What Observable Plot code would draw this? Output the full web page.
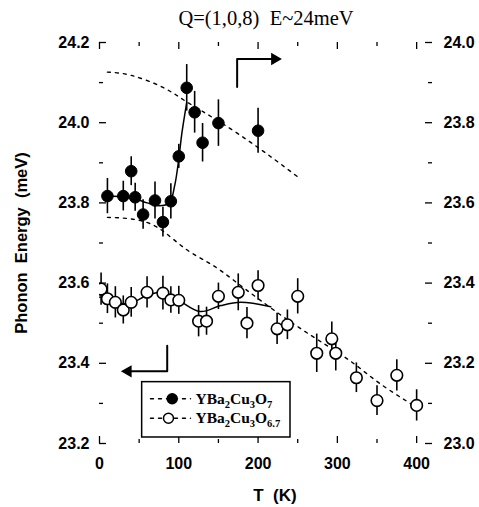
<!DOCTYPE html>
<html><head><meta charset="utf-8">
<script src="https://cdn.jsdelivr.net/npm/d3@7"></script>
<script src="https://cdn.jsdelivr.net/npm/@observablehq/plot@0.6"></script>
<style>body{margin:0;background:#fff}</style>
</head><body><div id="chart"></div>
<script>
const title = "Q=(1,0,8)\u00a0 E~24meV";
const yLabel = "Phonon\u00a0 Energy\u00a0 (meV)";
const xLabel = "T\u00a0 (K)";
const seriesNames = ["YBa2Cu3O7", "YBa2Cu3O6.7"];

// YBa2Cu3O7 (filled)
const o7T = [10, 30, 40, 45, 55, 70, 80, 90, 100, 110, 120, 130, 150, 200];
const o7E = [23.817, 23.817, 23.879, 23.814, 23.771, 23.806, 23.752, 23.804, 23.916, 24.087, 24.026, 23.95, 23.999, 23.98];
const o7Err = [0.044, 0.037, 0.036, 0.035, 0.037, 0.046, 0.037, 0.044, 0.03, 0.058, 0.052, 0.048, 0.058, 0.056];

// YBa2Cu3O6.7 (open)
const o67T = [2, 10, 20, 30, 40, 60, 80, 90, 100, 125, 135, 150, 175, 186, 200, 224, 237, 250, 274, 293, 298, 324, 350, 375, 400];
const o67E = [23.585, 23.561, 23.552, 23.533, 23.552, 23.577, 23.575, 23.558, 23.557, 23.505, 23.505, 23.567, 23.577, 23.5, 23.594, 23.486, 23.496, 23.567, 23.425, 23.461, 23.425, 23.364, 23.307, 23.37, 23.295];
const o67Err = [0.04, 0.037, 0.039, 0.035, 0.037, 0.039, 0.042, 0.033, 0.035, 0.039, 0.035, 0.033, 0.046, 0.039, 0.037, 0.039, 0.037, 0.044, 0.048, 0.042, 0.044, 0.037, 0.037, 0.039, 0.039];

// dashed curves
const fitUpperT = [10, 40, 80, 110, 150, 200, 252];
const fitUpperE = [24.126, 24.118, 24.088, 24.052, 24.004, 23.938, 23.862];
const fitLowerT = [10, 40, 73, 108, 140, 170, 203, 245, 287, 321, 354, 400];
const fitLowerE = [23.764, 23.76, 23.739, 23.686, 23.648, 23.606, 23.557, 23.498, 23.444, 23.399, 23.349, 23.29];

// solid guide curves
const guide7T = [10, 30, 45, 60, 75, 88, 95, 100, 104, 110];
const guide7E = [23.817, 23.815, 23.81, 23.80, 23.793, 23.80, 23.845, 23.91, 23.975, 24.05];
const guide67T = [0, 10, 35, 60, 80, 100, 127, 153, 178, 216];
const guide67E = [23.565, 23.561, 23.548, 23.569, 23.577, 23.557, 23.529, 23.544, 23.552, 23.541];

// ticks
const xTicks = [0, 100, 200, 300, 400];
const xMinorTicks = [50, 150, 250, 350];
const yTicks = [23.2, 23.4, 23.6, 23.8, 24.0, 24.2];
const yMinorTicks = [23.3, 23.5, 23.7, 23.9, 24.1];
const yRightLabels = ["23.0", "23.2", "23.4", "23.6", "23.8", "24.0"];

// annotations (data units)
const arrowRight = [[173.6, 24.089], [173.6, 24.159], [221, 24.159]];
const arrowLeft = [[85.4, 23.444], [85.4, 23.380], [36, 23.380]];
const legendBox = {x1: 53.8, x2: 240.9, y1: 23.215, y2: 23.353};
const legendRows = [
  {name: seriesNames[0], y: 23.3115, fill: "black", mx: 91.7},
  {name: seriesNames[1], y: 23.263, fill: "white", mx: 87}
];
const legendLineX = [64.3, 114.8];
const legendTextX = 121;

const zip = (T, E, err) => T.map((t, i) => ({T: t, E: E[i], err: err ? err[i] : 0}));
const s7 = zip(o7T, o7E, o7Err);
const s67 = zip(o67T, o67E, o67Err);
const fitU = zip(fitUpperT, fitUpperE);
const fitL = zip(fitLowerT, fitLowerE);
const g7 = zip(guide7T, guide7E);
const g67 = zip(guide67T, guide67E);

const W = 479, H = 507, mL = 99, mR = 47, mT = 42, mB = 64;
const fw = W - mL - mR, fh = H - mT - mB;
const serif = "Liberation Serif, Times New Roman, serif";

const legendSegs = legendRows.flatMap(r => legendLineX.map(x => ({x, y: r.y, row: r.name})));

const chart = Plot.plot({
  width: W, height: H,
  marginLeft: mL, marginRight: mR, marginTop: mT, marginBottom: mB,
  x: {domain: [0, 420]},
  y: {domain: [23.2, 24.2]},
  style: {fontFamily: "Liberation Sans, Arial, sans-serif", fontWeight: "bold", fontSize: "16px", color: "black", background: "white"},
  marks: [
    Plot.tickX(xTicks, {x: d => d, insetTop: fh - 7, strokeWidth: 1.3}),
    Plot.tickX(xTicks, {x: d => d, insetBottom: fh - 7, strokeWidth: 1.3}),
    Plot.tickX(xMinorTicks, {x: d => d, insetTop: fh - 4, strokeWidth: 1.3}),
    Plot.tickX(xMinorTicks, {x: d => d, insetBottom: fh - 4, strokeWidth: 1.3}),
    Plot.tickY(yTicks, {y: d => d, insetRight: fw - 7, strokeWidth: 1.3}),
    Plot.tickY(yTicks, {y: d => d, insetLeft: fw - 7, strokeWidth: 1.3}),
    Plot.tickY(yMinorTicks, {y: d => d, insetRight: fw - 4, strokeWidth: 1.3}),
    Plot.tickY(yMinorTicks, {y: d => d, insetLeft: fw - 4, strokeWidth: 1.3}),
    Plot.axisX({ticks: xTicks, tickSize: 0, tickPadding: 14, tickFormat: d => String(d), label: null}),
    Plot.axisY({ticks: yTicks, tickSize: 0, tickPadding: 10, tickFormat: d => d.toFixed(1), label: null}),
    Plot.axisY({anchor: "right", ticks: yTicks, tickSize: 0, tickPadding: 11, tickFormat: d => yRightLabels[yTicks.indexOf(d)], label: null}),
    Plot.text([title], {frameAnchor: "top", dy: -24, lineAnchor: "middle", fontFamily: serif, fontWeight: "normal", fontSize: 20.5}),
    Plot.text([yLabel], {frameAnchor: "left", dx: -78, rotate: -90, textAnchor: "middle", lineAnchor: "middle", fontSize: 16.5}),
    Plot.text([xLabel], {frameAnchor: "bottom", dx: 9, dy: 52, lineAnchor: "middle", fontSize: 17}),

    Plot.line(fitU, {x: "T", y: "E", curve: "natural", stroke: "black", strokeWidth: 1.4, strokeDasharray: "3,5"}),
    Plot.line(fitL, {x: "T", y: "E", curve: "natural", stroke: "black", strokeWidth: 1.4, strokeDasharray: "3,5"}),
    Plot.line(g7, {x: "T", y: "E", curve: "catmull-rom", stroke: "black", strokeWidth: 1.5}),
    Plot.line(g67, {x: "T", y: "E", curve: "catmull-rom", stroke: "black", strokeWidth: 1.5, clip: true}),

    Plot.ruleX(s7, {x: "T", y1: d => d.E - d.err, y2: d => d.E + d.err, stroke: "black", strokeWidth: 1.6}),
    Plot.ruleX(s67, {x: "T", y1: d => d.E - d.err, y2: d => d.E + d.err, stroke: "black", strokeWidth: 1.6}),
    Plot.dot(s7, {x: "T", y: "E", r: 5.8, fill: "black", stroke: "black", strokeWidth: 1}),
    Plot.dot(s67, {x: "T", y: "E", r: 5.8, fill: "white", stroke: "black", strokeWidth: 1.6, clip: true}),

    Plot.line(arrowRight, {x: d => d[0], y: d => d[1], stroke: "black", strokeWidth: 2}),
    Plot.dot([arrowRight[2]], {x: d => d[0], y: d => d[1], symbol: "triangle", r: 4.6, fill: "black", rotate: 90}),
    Plot.line(arrowLeft, {x: d => d[0], y: d => d[1], stroke: "black", strokeWidth: 2}),
    Plot.dot([arrowLeft[2]], {x: d => d[0], y: d => d[1], symbol: "triangle", r: 4.6, fill: "black", rotate: -90}),

    Plot.rect([legendBox], {x1: "x1", x2: "x2", y1: "y1", y2: "y2", fill: "white", stroke: "black", strokeWidth: 1.5}),
    Plot.line(legendSegs, {x: "x", y: "y", z: "row", stroke: "black", strokeWidth: 1.4, strokeDasharray: "3,5"}),
    Plot.dot(legendRows, {x: "mx", y: "y", r: 5, fill: "fill", stroke: "black", strokeWidth: 1.5}),
    Plot.text(legendRows, {x: () => legendTextX, y: "y", text: "name", textAnchor: "start", lineAnchor: "middle", fontFamily: serif, fontSize: 15.5})
  ]
});

// render chemical formula subscripts
chart.querySelectorAll("text").forEach(t => {
  const s = t.textContent;
  if (!seriesNames.includes(s)) return;
  t.textContent = "";
  const parts = s.match(/[A-Za-z]+|[0-9.]+/g);
  const ns = "http://www.w3.org/2000/svg";
  let prevSub = false;
  parts.forEach(p => {
    const isSub = /^[0-9.]+$/.test(p);
    const ts = document.createElementNS(ns, "tspan");
    ts.textContent = p;
    if (isSub) {
      ts.setAttribute("font-size", "10.5");
      ts.setAttribute("dy", "4");
    } else {
      ts.setAttribute("dy", prevSub ? "-4" : "0");
    }
    prevSub = isSub;
    t.appendChild(ts);
  });
});

document.getElementById("chart").appendChild(chart);
</script>
</body></html>
